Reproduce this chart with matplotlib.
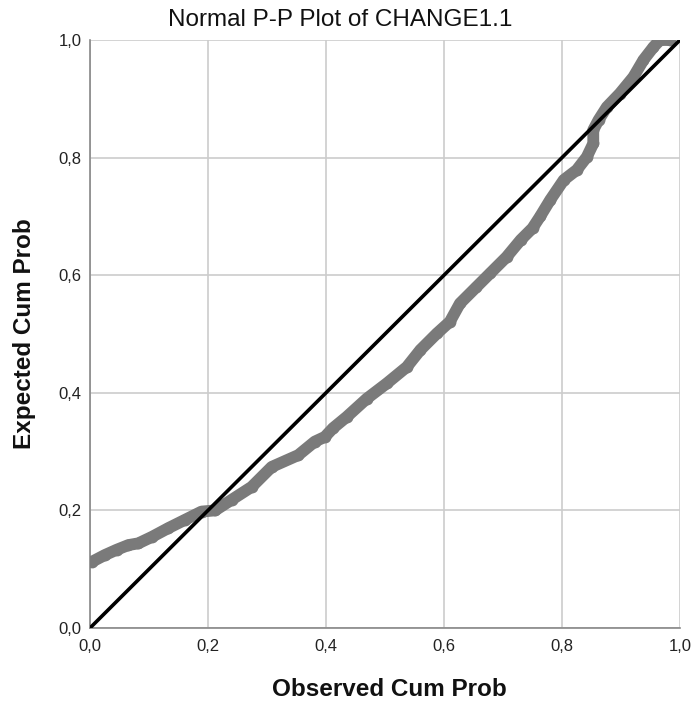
import matplotlib
matplotlib.use("Agg")
import matplotlib.pyplot as plt
from matplotlib.ticker import FuncFormatter

plt.rcParams['font.family'] = ['Liberation Sans', 'DejaVu Sans']

observed = [0.004, 0.025, 0.045, 0.065, 0.082, 0.105, 0.133, 0.161, 0.189, 0.212,
            0.24, 0.274, 0.308, 0.353, 0.381, 0.398, 0.412, 0.435, 0.469, 0.503,
            0.537, 0.56, 0.588, 0.61, 0.627, 0.655, 0.678, 0.706, 0.73, 0.75,
            0.763, 0.78, 0.803, 0.825, 0.842, 0.853, 0.853, 0.862, 0.876, 0.898,
            0.921, 0.938, 0.955, 0.966, 0.983]
expected = [0.113, 0.124, 0.133, 0.141, 0.144, 0.155, 0.17, 0.184, 0.198, 0.20,
            0.218, 0.24, 0.274, 0.294, 0.317, 0.325, 0.34, 0.359, 0.39, 0.416,
            0.444, 0.473, 0.501, 0.521, 0.552, 0.58, 0.603, 0.631, 0.66, 0.68,
            0.70, 0.728, 0.762, 0.779, 0.801, 0.824, 0.847, 0.864, 0.886, 0.909,
            0.937, 0.966, 0.988, 1.0, 1.0]
ref_line = [0.0, 1.0]
ticks = [0.0, 0.2, 0.4, 0.6, 0.8, 1.0]

W, H = 695, 707
fig = plt.figure(figsize=(W/100, H/100), dpi=100)
ax = fig.add_axes([90/W, 79/H, 590/W, 588/H])

ax.plot(observed, expected, color='#7a7a7a', lw=8.5, solid_capstyle='round',
        solid_joinstyle='round', zorder=3)
ax.plot(observed, expected, 'o', color='#7a7a7a', ms=8.5, mec='none', zorder=3)
ax.plot(ref_line, ref_line, color='black', lw=2.6, zorder=4)

ax.set_xlim(0, 1)
ax.set_ylim(0, 1)
ax.set_xticks(ticks)
ax.set_yticks(ticks)
fmt = FuncFormatter(lambda v, p: f"{v:.1f}".replace('.', ','))
ax.xaxis.set_major_formatter(fmt)
ax.yaxis.set_major_formatter(fmt)
ax.tick_params(length=0, labelsize=12, colors='#222222')
ax.tick_params(axis='x', pad=8)
ax.tick_params(axis='y', pad=6)
ax.grid(True, color='#cccccc', lw=1.2, zorder=0)
ax.set_axisbelow(True)
for s in ['top', 'right']:
    ax.spines[s].set_visible(False)
for s in ['left', 'bottom']:
    ax.spines[s].set_color('#888888')
    ax.spines[s].set_linewidth(1.2)

fig.text(340/W, 1 - 20/H, "Normal P-P Plot of CHANGE1.1", fontsize=17.5,
         ha='center', va='center', color='#111111')
fig.text(389/W, 1 - 689/H, "Observed Cum Prob", fontsize=17.5, fontweight='bold',
         ha='center', va='center', color='#111111')
fig.text(25/W, 1 - 334/H, "Expected Cum Prob", fontsize=17.5, fontweight='bold',
         ha='center', va='center', rotation=90, color='#111111')

fig.savefig("out.png", dpi=100)
